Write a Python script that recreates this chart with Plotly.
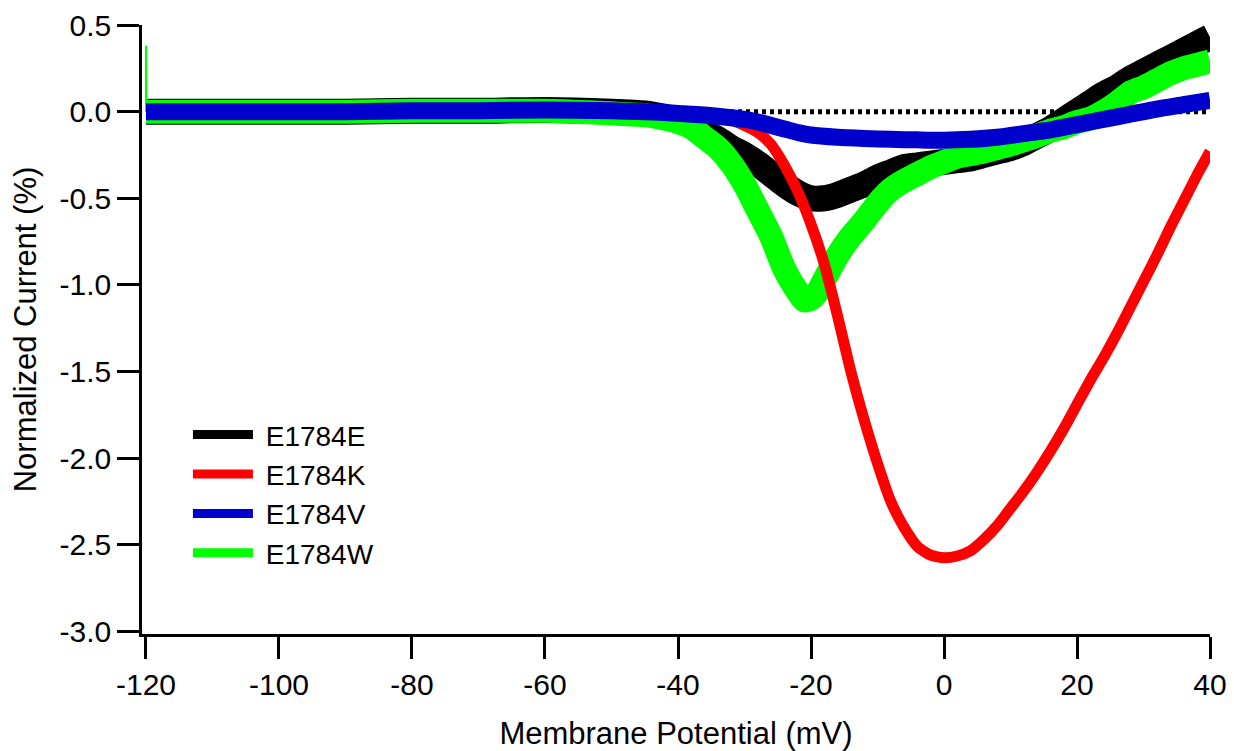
import plotly.graph_objects as go

# ---------------- data ----------------
x_E = [-120, -110, -100, -90, -80, -70, -60, -50, -45, -42, -40, -38, -36, -34, -32, -30, -28, -26, -24, -22,
       -20, -18, -16, -14, -12, -10, -8, -6, -4, -2, 0, 2, 4, 6, 8, 10, 12, 14, 16, 18, 20, 22, 24, 26, 28,
       30, 32, 34, 36, 38, 40]
y_E = [0.0, 0.0, 0.0, 0.0, 0.005, 0.005, 0.01, 0.0, -0.01, -0.03, -0.05, -0.08, -0.12, -0.16, -0.21, -0.25,
       -0.30, -0.36, -0.42, -0.47, -0.50, -0.50, -0.48, -0.45, -0.42, -0.38, -0.35, -0.32, -0.31, -0.30, -0.29,
       -0.28, -0.27, -0.25, -0.23, -0.21, -0.18, -0.14, -0.10, -0.05, 0.0, 0.05, 0.10, 0.14, 0.19, 0.23, 0.27,
       0.31, 0.35, 0.39, 0.43]

x_K = [-120, -110, -100, -90, -80, -70, -60, -50, -44, -40, -36, -32, -30, -28, -26, -24, -22, -20, -18, -16,
       -14, -12, -10, -8, -6, -4, -2, 0, 2, 4, 6, 8, 10, 12, 14, 16, 18, 20, 22, 24, 26, 28, 30, 32, 34, 36,
       38, 40]
y_K = [0.0, 0.0, 0.0, 0.0, 0.005, 0.005, 0.01, 0.01, 0.005, 0.0, -0.02, -0.05, -0.08, -0.12, -0.19, -0.31,
       -0.46, -0.65, -0.88, -1.18, -1.50, -1.78, -2.03, -2.25, -2.40, -2.51, -2.56, -2.575, -2.565, -2.535,
       -2.47, -2.39, -2.29, -2.19, -2.08, -1.96, -1.83, -1.69, -1.55, -1.42, -1.28, -1.13, -0.98, -0.83, -0.67,
       -0.52, -0.37, -0.23]

x_V = [-120, -110, -100, -90, -80, -70, -60, -50, -45, -42, -40, -36, -32, -30, -28, -26, -24, -22, -20, -16,
       -12, -8, -4, 0, 4, 8, 12, 16, 20, 24, 28, 32, 36, 40]
y_V = [0.0, 0.0, 0.0, 0.0, 0.005, 0.005, 0.01, 0.005, 0.0, -0.005, -0.01, -0.02, -0.035, -0.045, -0.06, -0.08,
       -0.10, -0.12, -0.135, -0.148, -0.155, -0.16, -0.163, -0.165, -0.16, -0.148, -0.127, -0.105, -0.075,
       -0.045, -0.015, 0.015, 0.04, 0.065]

x_W = [-120, -110, -100, -90, -80, -70, -60, -50, -45, -42, -40, -38, -36, -34, -32, -30, -28, -26, -24, -22,
       -21, -20, -19, -18, -16, -14, -12, -10, -8, -6, -4, -2, 0, 2, 4, 6, 8, 10, 12, 14, 16, 18, 20, 22, 24,
       26, 28, 30, 32, 34, 36, 38, 40]
y_W = [0.0, 0.0, 0.0, 0.0, 0.005, 0.005, 0.005, -0.01, -0.02, -0.04, -0.06, -0.09, -0.15, -0.21, -0.30, -0.42,
       -0.57, -0.72, -0.91, -1.04, -1.09, -1.08, -1.04, -0.97, -0.83, -0.72, -0.63, -0.53, -0.45, -0.40, -0.36,
       -0.32, -0.29, -0.26, -0.245, -0.23, -0.21, -0.19, -0.165, -0.14, -0.11, -0.09, -0.06, -0.04, 0.0, 0.05,
       0.11, 0.14, 0.18, 0.22, 0.25, 0.27, 0.29]

# initial capacitive transient of the W trace
x_W_spike = [-120, -120, -119.9]
y_W_spike = [0.0, 0.38, 0.0]

# zero reference line
x_zero = [-120, 40]
y_zero = [0.0, 0.0]

series_names = ["E1784E", "E1784K", "E1784V", "E1784W"]
series_colors = ["#000000", "#ff0000", "#0000cc", "#00ff00"]

x_tickvals = [-120, -100, -80, -60, -40, -20, 0, 20, 40]
x_ticktext = ["-120", "-100", "-80", "-60", "-40", "-20", "0", "20", "40"]
y_tickvals = [0.5, 0.0, -0.5, -1.0, -1.5, -2.0, -2.5, -3.0]
y_ticktext = ["0.5", "0.0", "-0.5", "-1.0", "-1.5", "-2.0", "-2.5", "-3.0"]

FONT = "Liberation Sans, Arial, sans-serif"

fig = go.Figure()

# zero line (bottom)
fig.add_trace(go.Scatter(x=x_zero, y=y_zero, mode="lines", showlegend=False, hoverinfo="skip",
                         line=dict(color="#000000", width=5, dash="4px,4px")))

# data traces, drawn bottom to top: E, W, K, V
fig.add_trace(go.Scatter(x=x_E, y=y_E, mode="lines", showlegend=False,
                         line=dict(color=series_colors[0], width=26, shape="spline", smoothing=0.6)))
fig.add_trace(go.Scatter(x=x_W, y=y_W, mode="lines", showlegend=False,
                         line=dict(color=series_colors[3], width=24, shape="spline", smoothing=0.6)))
fig.add_trace(go.Scatter(x=x_W_spike, y=y_W_spike, mode="lines", showlegend=False,
                         line=dict(color=series_colors[3], width=2)))
fig.add_trace(go.Scatter(x=x_K, y=y_K, mode="lines", showlegend=False,
                         line=dict(color=series_colors[1], width=11, shape="spline", smoothing=0.6)))
fig.add_trace(go.Scatter(x=x_V, y=y_V, mode="lines", showlegend=False,
                         line=dict(color=series_colors[2], width=17, shape="spline", smoothing=0.6)))

# legend entries
for name, col in zip(series_names, series_colors):
    fig.add_trace(go.Scatter(x=[None], y=[None], mode="lines", name="\u00a0" + name,
                             line=dict(color=col, width=9)))

fig.update_layout(
    width=1234, height=751,
    margin=dict(l=142, r=24, t=25, b=117, autoexpand=False),
    paper_bgcolor="white", plot_bgcolor="white",
    font=dict(family=FONT, size=30, color="#000000"),
    legend=dict(x=0.043, y=0.368, xanchor="left", yanchor="top",
                bgcolor="rgba(0,0,0,0)", font=dict(size=28, family=FONT),
                itemwidth=60, tracegroupgap=0),
    xaxis=dict(range=[-120.6, 40], showgrid=False, zeroline=False,
               showline=True, linecolor="#000000", linewidth=2.5,
               ticks="outside", ticklen=22, tickwidth=2.5, tickcolor="#000000",
               tickvals=x_tickvals, ticktext=x_ticktext,
               tickfont=dict(size=30, family=FONT),
               title=dict(text="Membrane Potential (mV)", font=dict(size=31, family=FONT), standoff=24)),
    yaxis=dict(range=[-3.015, 0.5], showgrid=False, zeroline=False,
               showline=True, linecolor="#000000", linewidth=2.5,
               ticks="outside", ticklen=22, tickwidth=2.5, tickcolor="#000000",
               tickvals=y_tickvals, ticktext=y_ticktext,
               tickfont=dict(size=30, family=FONT),
               title=dict(text="Normalized Current (%)", font=dict(size=31, family=FONT), standoff=14)),
)

fig.write_html("out.html")
